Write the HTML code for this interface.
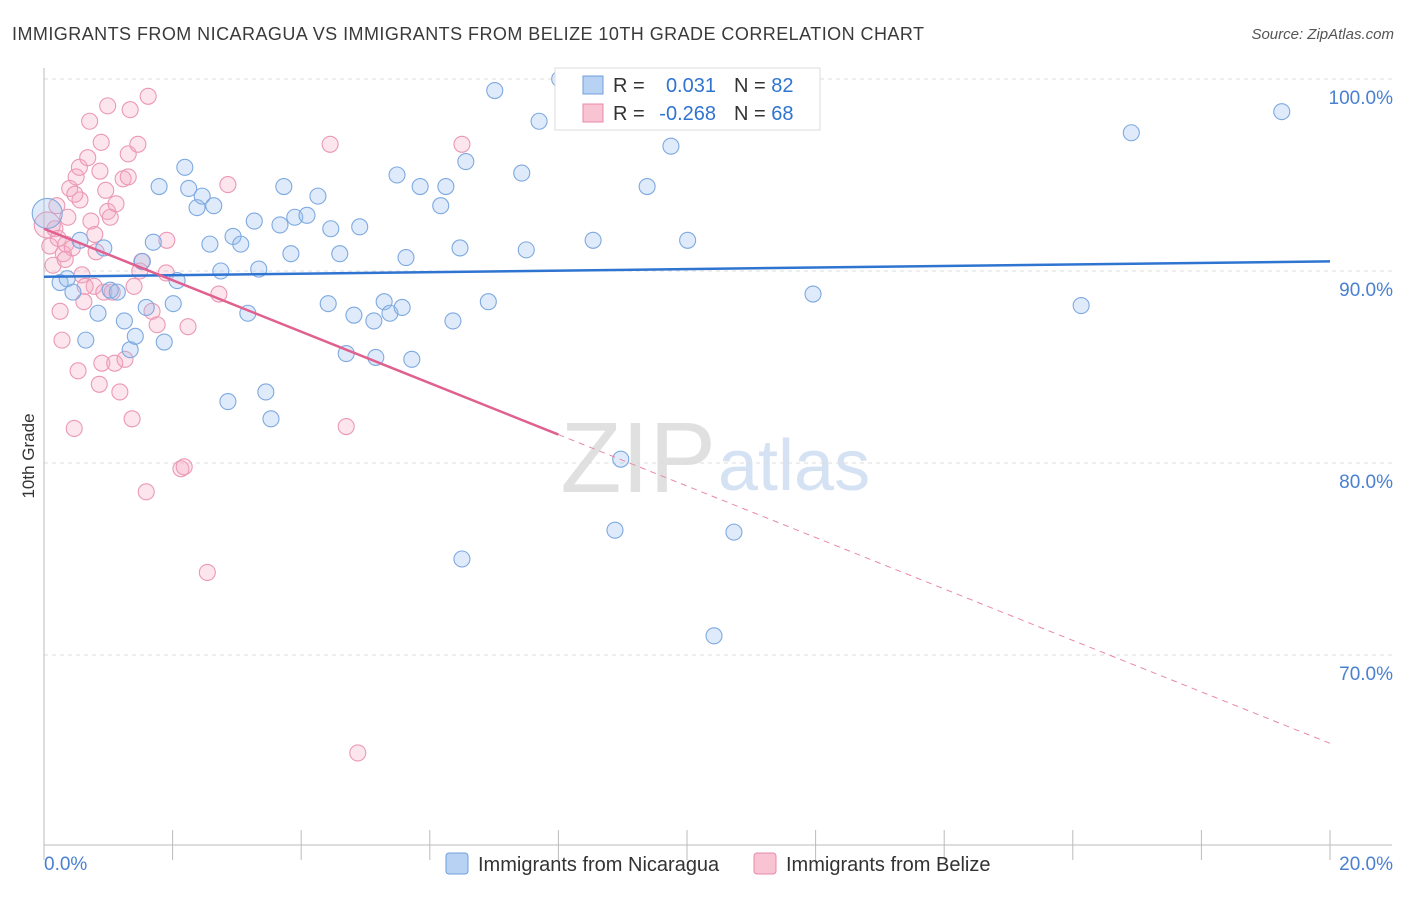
<!DOCTYPE html>
<html><head><meta charset="utf-8"><style>
body{margin:0;background:#fff;font-family:"Liberation Sans",sans-serif}
svg text{font-family:"Liberation Sans",sans-serif}
</style></head><body>
<svg id="c" width="1406" height="892" xmlns="http://www.w3.org/2000/svg">
<text x="12" y="40" font-size="18" letter-spacing="0.45" fill="#3a3a3a">IMMIGRANTS FROM NICARAGUA VS IMMIGRANTS FROM BELIZE 10TH GRADE CORRELATION CHART</text>
<text x="1394" y="39" font-size="15" fill="#555" font-style="italic" text-anchor="end">Source: ZipAtlas.com</text>
<text x="34" y="456" font-size="17" fill="#333" transform="rotate(-90 34 456)" text-anchor="middle">10th Grade</text>
<text x="716" y="492" font-size="100" fill="#e0e0e0" text-anchor="end" font-family="Liberation Serif">ZIP</text>
<text x="718" y="490" font-size="72" fill="#d4e2f4">atlas</text>
<g id="grid"></g><g id="axes"></g><g id="pts"></g><g id="lines"></g>
<g>
<rect x="555" y="68" width="265" height="62" fill="#fff" stroke="#ddd"/>
<rect x="583" y="76" width="20" height="18" fill="#b8d2f4" stroke="#6f9fdc"/>
<text x="613" y="92" font-size="20" fill="#333">R =</text><text x="716" y="92" font-size="20" fill="#2f74d0" text-anchor="end">0.031</text>
<text x="734" y="92" font-size="20" fill="#333">N = <tspan fill="#2f74d0">82</tspan></text>
<rect x="583" y="104" width="20" height="18" fill="#f8c4d4" stroke="#e889a8"/>
<text x="613" y="120" font-size="20" fill="#333">R =</text><text x="716" y="120" font-size="20" fill="#2f74d0" text-anchor="end">-0.268</text>
<text x="734" y="120" font-size="20" fill="#333">N = <tspan fill="#2f74d0">68</tspan></text>
</g>
<g>
<rect x="446" y="853" width="22" height="21" rx="3" fill="#b8d2f4" stroke="#6f9fdc"/>
<text x="478" y="871" font-size="20" fill="#333">Immigrants from Nicaragua</text>
<rect x="754" y="853" width="22" height="21" rx="3" fill="#f8c4d4" stroke="#e889a8"/>
<text x="786" y="871" font-size="20" fill="#333">Immigrants from Belize</text>
</g>
</svg>
<script>
const xTicks=[0,20];
const yTicks=[70,80,90,100];
const blueX=[0.05,0.25,0.36,0.45,0.56,0.65,0.84,0.93,1.03,1.14,1.25,1.34,1.42,1.53,1.59,1.70,1.79,1.87,2.01,2.07,2.19,2.25,2.38,2.46,2.58,2.64,2.75,2.86,2.94,3.06,3.17,3.27,3.34,3.45,3.53,3.67,3.73,3.84,3.90,4.09,4.26,4.42,4.46,4.60,4.70,4.82,4.91,5.13,5.16,5.29,5.38,5.49,5.57,5.63,5.72,5.85,6.17,6.25,6.36,6.47,6.50,6.56,6.91,7.01,7.43,7.50,7.70,8.02,8.54,8.88,8.97,9.38,9.75,10.01,10.42,10.73,11.96,16.13,16.91,19.25];
const blueY=[93.0,89.4,89.6,88.9,91.6,86.4,87.8,91.2,89.0,88.9,87.4,85.9,86.6,90.5,88.1,91.5,94.4,86.3,88.3,89.5,95.4,94.3,93.3,93.9,91.4,93.4,90.0,83.2,91.8,91.4,87.8,92.6,90.1,83.7,82.3,92.4,94.4,90.9,92.8,92.9,93.9,88.3,92.2,90.9,85.7,87.7,92.3,87.4,85.5,88.4,87.8,95.0,88.1,90.7,85.4,94.4,93.4,94.4,87.4,91.2,75.0,95.7,88.4,99.4,95.1,91.1,97.8,100.0,91.6,76.5,80.2,94.4,96.5,91.6,71.0,76.4,88.8,88.2,97.2,98.3];
const pinkX=[0.05,0.09,0.14,0.17,0.22,0.25,0.28,0.30,0.34,0.37,0.40,0.44,0.47,0.50,0.53,0.55,0.56,0.59,0.62,0.68,0.71,0.73,0.78,0.81,0.86,0.89,0.90,0.93,0.96,0.99,0.99,1.03,1.10,1.12,1.18,1.23,1.31,1.34,1.37,1.40,1.46,1.52,1.59,1.62,1.68,1.76,1.90,1.91,2.13,2.18,2.24,2.54,2.72,2.86,4.45,4.70,4.88,6.50,1.31,0.79,0.64,0.20,0.33,1.06,1.49,0.87,1.26,0.48];
const pinkY=[92.4,91.3,90.3,92.2,91.7,87.9,86.4,90.9,91.4,92.8,94.3,91.2,81.8,94.9,84.8,95.4,93.7,89.8,88.4,95.9,97.8,92.6,89.2,91.0,84.1,96.7,85.2,88.9,94.2,93.1,98.6,92.8,85.2,93.5,83.7,94.8,96.1,98.4,82.3,89.2,96.6,90.5,78.5,99.1,87.9,87.2,89.9,91.6,79.7,79.8,87.1,74.3,88.8,94.5,96.6,81.9,64.9,96.6,94.9,91.9,89.2,93.4,90.6,88.9,90.0,95.2,85.4,94.0];
const blueFit=[89.7,90.5];
const pinkFit=[92.2,65.4];
const NS='http://www.w3.org/2000/svg';
const X=v=>44+v/20*1286, Y=v=>79+(100-v)*19.2;
function mk(t,a,p){const e=document.createElementNS(NS,t);for(const k in a)e.setAttribute(k,a[k]);p.appendChild(e);return e;}
const grid=document.getElementById('grid'),axes=document.getElementById('axes'),pts=document.getElementById('pts'),lines=document.getElementById('lines');
yTicks.forEach(v=>{
 const l=mk('line',{x1:44,x2:1392,y1:Y(v),y2:Y(v),stroke:'#ddd','stroke-dasharray':'4,4'},grid);
 
 
 const t=mk('text',{x:1393,y:Y(v)+25,'font-size':19,fill:'#4a80d0','text-anchor':'end'},axes);
 t.textContent=v.toFixed(1)+'%';
 
 
});
mk('line',{x1:44,x2:44,y1:68,y2:845,stroke:'#bbb'},axes);
mk('line',{x1:44,x2:1392,y1:845,y2:845,stroke:'#bbb'},axes);
for(let i=0;i<=10;i++){mk('line',{x1:X(i*2),x2:X(i*2),y1:830,y2:860,stroke:'#bbb'},axes);}
xTicks.forEach((v,i)=>{
 const t=mk('text',{x:i?1393:44,y:870,'font-size':19,fill:'#4a80d0','text-anchor':i?'end':'start'},axes);
 t.textContent=v.toFixed(1)+'%';
 
 
});
pinkX.forEach((x,i)=>{
 const c=mk('circle',{cx:X(x),cy:Y(pinkY[i]),r:i==0?13:8,fill:'rgba(245,170,195,0.3)',stroke:'#eb98b4','stroke-width':1.1},pts);
 
 
});
blueX.forEach((x,i)=>{
 const c=mk('circle',{cx:X(x),cy:Y(blueY[i]),r:i==0?15:8,fill:'rgba(150,190,240,0.3)',stroke:'#7ea9e0','stroke-width':1.1},pts);
 
 
});
const bl=mk('line',{x1:X(0),y1:Y(blueFit[0]),x2:X(20),y2:Y(blueFit[1]),stroke:'#2f74d0','stroke-width':2.5},lines);


const pm=v=>pinkFit[0]+(pinkFit[1]-pinkFit[0])*v/20;
const pl=mk('line',{x1:X(0),y1:Y(pm(0)),x2:X(8),y2:Y(pm(8)),stroke:'#e0608f','stroke-width':2.5},lines);


const pd=mk('line',{x1:X(8),y1:Y(pm(8)),x2:X(20),y2:Y(pm(20)),stroke:'#e888a8','stroke-width':1,'stroke-dasharray':'6,5'},lines);


</script>
</body></html>
